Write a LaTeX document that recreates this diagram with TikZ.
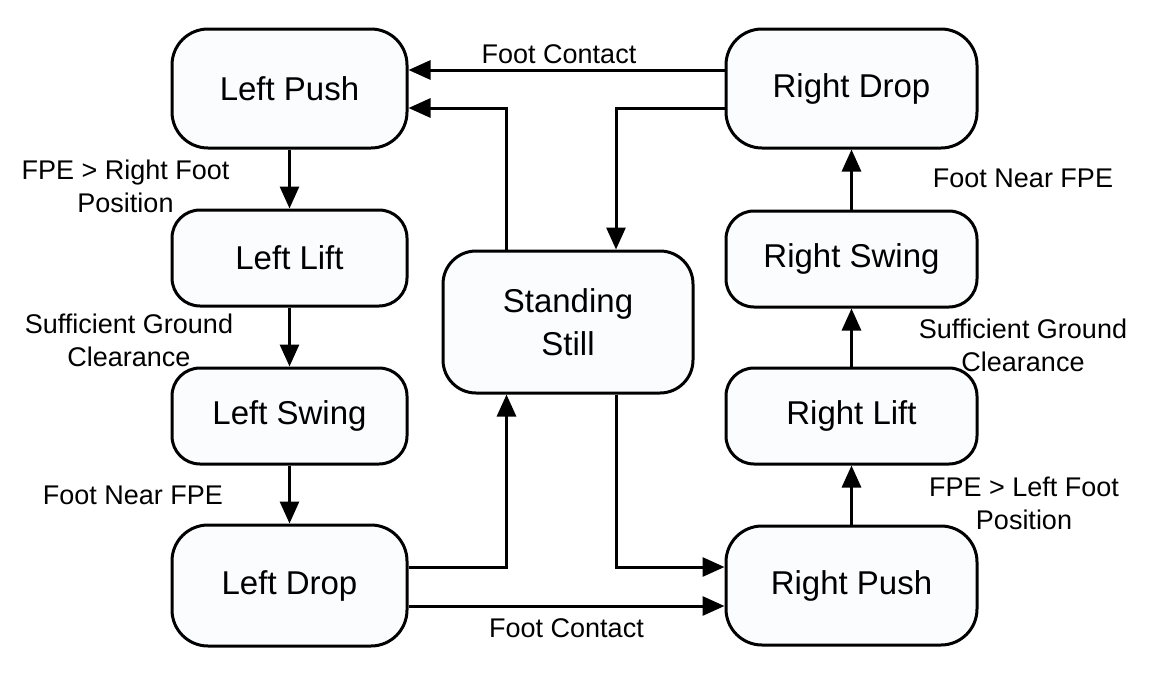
\documentclass[tikz,border=0pt]{standalone}
\usepackage{fontspec}
\setmainfont{Liberation Sans}
\usetikzlibrary{arrows.meta,calc}
\definecolor{boxfill}{RGB}{250,252,253}
\tikzset{
  state/.style={draw=black, line width=1.5pt, fill=boxfill, rounded corners=14pt,
    inner sep=0pt, align=center, font=\fontsize{16.5}{21.5}\selectfont},
  bigstate/.style={rounded corners=18pt},
  leftcol/.style={state, minimum width=117.5pt},
  rightcol/.style={state, minimum width=125.5pt},
  cond/.style={align=center, inner sep=0pt, font=\fontsize{13.5}{16.5}\selectfont},
  arr/.style={line width=1.5pt, -{Triangle[length=11pt,width=9.5pt]}}
}
\begin{document}
\begin{tikzpicture}[x=0.5pt,y=-0.5pt]
\useasboundingbox (0,0) rectangle (1152,675);
% states
\node[leftcol, bigstate, minimum height=59.5pt] (LP) at (289.5,88.5) {Left Push};
\node[leftcol, minimum height=48pt] (LL) at (289.5,258) {Left Lift};
\node[leftcol, minimum height=48pt] (LS) at (289.5,416) {Left Swing};
\node[leftcol, bigstate, minimum height=60.5pt] (LD) at (289.5,585.5) {Left Drop};
\node[state, rounded corners=16.5pt, minimum width=125pt, minimum height=71pt] (SS) at (568,322) {Standing\\Still};
\node[rightcol, bigstate, minimum height=59.5pt] (RD) at (851.5,88.5) {Right Drop};
\node[rightcol, minimum height=48pt] (RSw) at (851.5,259) {Right Swing};
\node[rightcol, minimum height=48pt] (RL) at (851.5,416) {Right Lift};
\node[rightcol, bigstate, minimum height=59.5pt] (RP) at (851.5,585.5) {Right Push};
% helper coordinates for connector rows/columns
\coordinate (ya) at (0,70);
\coordinate (yb) at (0,108);
\coordinate (yc) at (0,567);
\coordinate (yd) at (0,606);
\coordinate (xa) at (506.5,0);
\coordinate (xb) at (616,0);
% connectors
\draw[arr] (RD.west |- ya) -- (LP.east |- ya);
\draw[arr] (SS.north -| xa) -- (xa |- yb) -- (LP.east |- yb);
\draw[arr] (RD.west |- yb) -- (xb |- yb) -- (SS.north -| xb);
\draw[arr] (LP) -- (LL);
\draw[arr] (LL) -- (LS);
\draw[arr] (LS) -- (LD);
\draw[arr] (LD.east |- yc) -- (xa |- yc) -- (SS.south -| xa);
\draw[arr] (SS.south -| xb) -- (xb |- yc) -- (RP.west |- yc);
\draw[arr] (LD.east |- yd) -- (RP.west |- yd);
\draw[arr] (RP) -- (RL);
\draw[arr] (RL) -- (RSw);
\draw[arr] (RSw) -- (RD);
% condition labels
\node[cond] (c1) at (559,54) {Foot Contact};
\node[cond] (c2) at (566.5,628) {Foot Contact};
\node[cond] (c3) at (125.5,186.5) {FPE > Right Foot\\Position};
\node[cond] (c4) at (129,340.5) {Sufficient Ground\\Clearance};
\node[cond] (c5) at (133,495) {Foot Near FPE};
\node[cond] (c6) at (1023,178) {Foot Near FPE};
\node[cond] (c7) at (1023,345) {Sufficient Ground\\Clearance};
\node[cond] (c8) at (1024,503) {FPE > Left Foot\\Position};
\end{tikzpicture}
\end{document}
